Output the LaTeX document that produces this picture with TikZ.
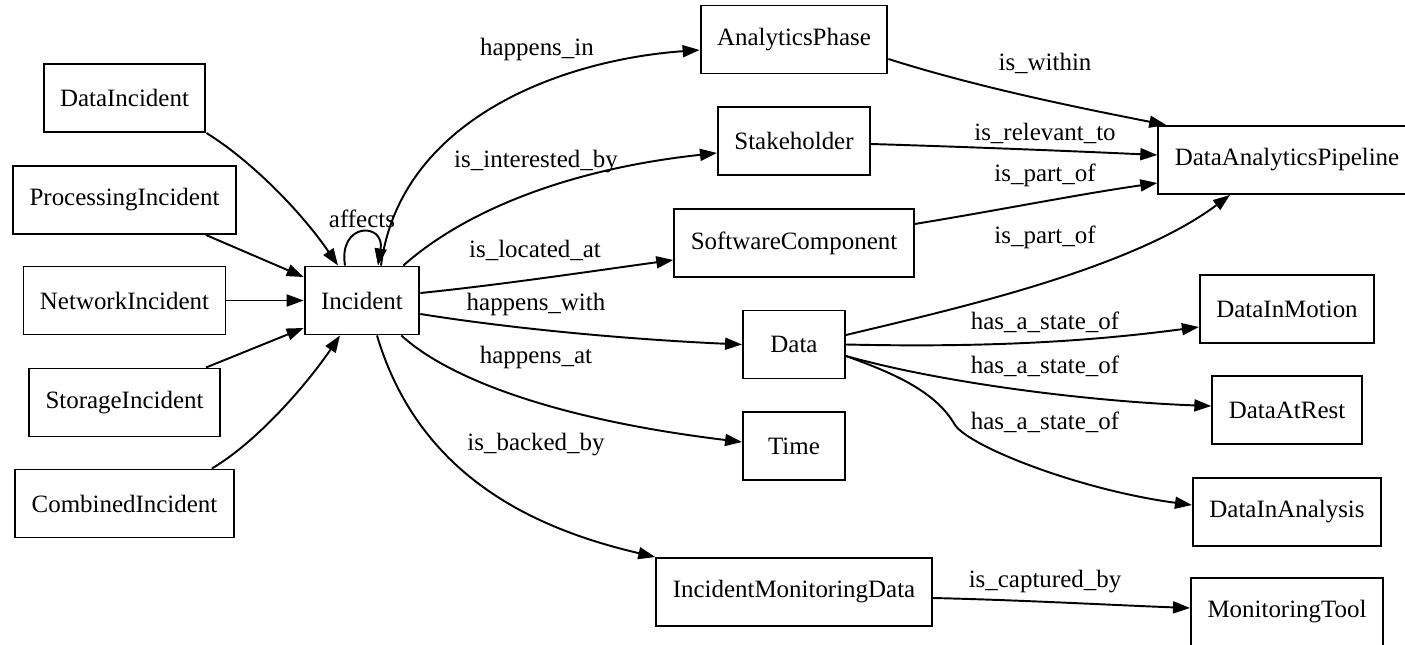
\documentclass[tikz,border=0pt]{standalone}
\usepackage{fontspec}
\setmainfont{Liberation Serif}
\usepackage{tikz}
\usetikzlibrary{arrows.meta, positioning}

\begin{document}
\begin{tikzpicture}[x=0.02cm, y=-0.02cm,
		cls/.style={shape=rectangle, draw, line width=1.1pt, minimum height=1.36cm, minimum width=2.04cm, inner xsep=0.33cm, font=\fontsize{14.2}{17}\selectfont},
		lbl/.style={inner sep=1pt, font=\fontsize{14.2}{17}\selectfont},
		rel/.style={line width=1.1pt, -{Triangle[length=0.34cm, width=0.24cm]}}]
			\useasboundingbox (0,0) rectangle (1405,645);
			% Classes:
			\node[cls] (di) at (124.5, 98){DataIncident};
			\node[cls] (pi) at (124.5, 200){ProcessingIncident};
			\node[cls] (ni) at (124.5, 300.5){NetworkIncident};
			\node[cls] (si) at (124.5, 402.5){StorageIncident};
			\node[cls] (ci) at (124.5, 503.5){CombinedIncident};
			\node[cls] (inc) at (362, 300.5){Incident};
			\node[cls] (ap) at (794, 39.5){AnalyticsPhase};
			\node[cls] (sh) at (794, 141){Stakeholder};
			\node[cls] (sc) at (794, 243){SoftwareComponent};
			\node[cls] (data) at (794, 344.5){Data};
			\node[cls] (time) at (794, 446){Time};
			\node[cls] (imd) at (794, 592){IncidentMonitoringData};
			\node[cls] (dap) at (1287, 160){DataAnalyticsPipeline};
			\node[cls] (dim) at (1287, 309){DataInMotion};
			\node[cls] (dar) at (1287, 410){DataAtRest};
			\node[cls] (dia) at (1287, 512){DataInAnalysis};
			\node[cls] (mt) at (1287, 612){MonitoringTool};
			% Subclass links:
			\draw[rel] (di.south east) .. controls (250,160) and (300,210) .. ([xshift=-0.48cm]inc.north);
			\draw[rel] ([xshift=-0.62cm]pi.south east) -- ([yshift=0.47cm]inc.west);
			\draw[rel] (ni.east) -- (inc.west);
			\draw[rel] ([xshift=-0.3cm]si.north east) -- ([yshift=-0.55cm]inc.west);
			\draw[rel] ([xshift=-0.46cm]ci.north east) .. controls (260,440) and (310,380) .. ([xshift=-0.44cm]inc.south);
			% Relations of Incident:
			\draw[rel] ([xshift=-0.34cm]inc.north) .. controls (338,222) and (385,222) .. ([xshift=0.32cm]inc.north);
			\draw[rel] ([xshift=0.38cm]inc.north) .. controls (400,120) and (560,60) .. ([yshift=-0.21cm]ap.west);
			\draw[rel] ([xshift=-0.34cm]inc.north east) .. controls (460,215) and (560,170) .. ([yshift=-0.24cm]sh.west);
			\draw[rel] ([yshift=0.15cm]inc.east) .. controls (500,285) and (600,270) .. ([yshift=-0.34cm]sc.west);
			\draw[rel] ([yshift=-0.27cm]inc.east) .. controls (520,330) and (640,340) .. (data.west);
			\draw[rel] ([xshift=-0.38cm]inc.south east) .. controls (450,380) and (560,420) .. ([yshift=0.08cm]time.west);
			\draw[rel] ([xshift=0.3cm]inc.south) .. controls (420,480) and (540,530) .. (imd.north west);
			% Relations towards the pipeline:
			\draw[rel] ([yshift=-0.39cm]ap.east) .. controls (980,88) and (1080,108) .. ([xshift=0.18cm]dap.north west);
			\draw[rel] ([yshift=-0.06cm]sh.east) .. controls (970,147) and (1070,151) .. ([yshift=0.1cm]dap.west);
			\draw[rel] ([yshift=0.38cm]sc.east) .. controls (1000,210) and (1080,194) .. ([yshift=-0.46cm]dap.west);
			\draw[rel] ([yshift=0.19cm]data.east) .. controls (950,310) and (1130,270) .. ([xshift=-1.14cm]dap.south);
			% States of Data:
			\draw[rel] (data.east) .. controls (1000,348) and (1100,340) .. ([yshift=-0.36cm]dim.west);
			\draw[rel] ([yshift=-0.23cm]data.east) .. controls (950,385) and (1100,402) .. ([yshift=0.08cm]dar.west);
			\draw[rel] ([yshift=-0.23cm]data.east) .. controls (890,372) and (935,390) .. (955,425) .. controls (970,447) and (1080,490) .. ([yshift=0.14cm]dia.west);
			\draw[rel] ([yshift=-0.12cm]imd.east) .. controls (1020,600) and (1110,605) .. ([yshift=0.08cm]mt.west);
			% Edge labels:
			\node[lbl] (laffects) at (362, 219){affects};
			\node[lbl] (lhappin) at (537, 50){happens\_in};
			\node[lbl] (linter) at (536, 162){is\_interested\_by};
			\node[lbl] (lloc) at (535, 250){is\_located\_at};
			\node[lbl] (lhappwith) at (536, 304){happens\_with};
			\node[lbl] (lhappat) at (536, 357){happens\_at};
			\node[lbl] (lbacked) at (536, 445){is\_backed\_by};
			\node[lbl] (lwithin) at (1045, 63){is\_within};
			\node[lbl] (lrel) at (1045, 133){is\_relevant\_to};
			\node[lbl] (lpartsc) at (1045, 175){is\_part\_of};
			\node[lbl] (lpartdata) at (1045, 237){is\_part\_of};
			\node[lbl] (lmotion) at (1045, 322){has\_a\_state\_of};
			\node[lbl] (lrest) at (1045, 366){has\_a\_state\_of};
			\node[lbl] (lanalysis) at (1045, 422){has\_a\_state\_of};
			\node[lbl] (lcaptured) at (1045, 582){is\_captured\_by};
		\end{tikzpicture}
\end{document}
